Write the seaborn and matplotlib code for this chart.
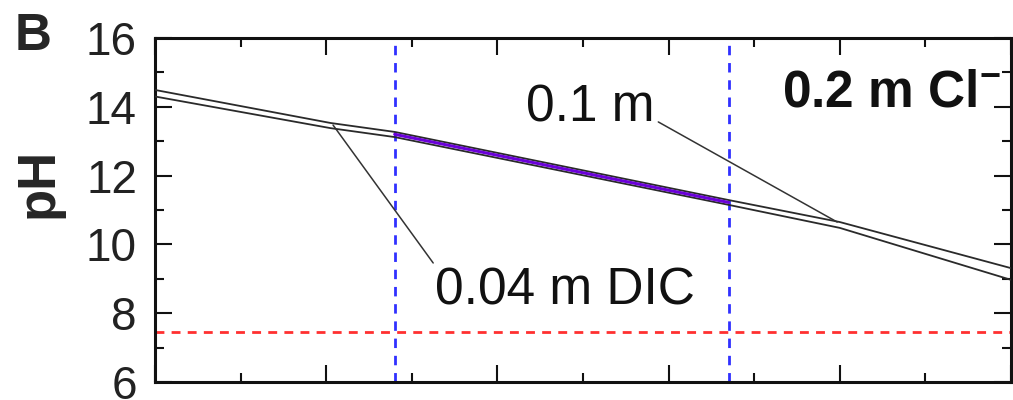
import numpy as np
import pandas as pd
import matplotlib
matplotlib.use("Agg")
import matplotlib.pyplot as plt
import seaborn as sns

# ---- data ----
x_pos = [0.0, 2.05, 2.8, 6.7, 8.0, 10.0]
ph_dic = [14.49, 13.53, 13.27, 11.29, 10.65, 9.31]
ph_cl = [14.30, 13.38, 13.12, 11.15, 10.48, 8.97]
band_x = [2.8, 6.7]
band_ph = [13.20, 11.22]
ref_ph = 7.45
window_x = [2.8, 6.71]
dic_pointer = [(2.08, 13.47), (3.25, 9.46)]
cl_pointer = [(5.88, 13.56), (7.97, 10.65)]
y_ticks = [6, 8, 10, 12, 14, 16]

sns.set_style("ticks")
plt.rcParams["font.family"] = ["Liberation Sans", "DejaVu Sans"]
plt.rcParams["mathtext.fontset"] = "custom"
plt.rcParams["mathtext.rm"] = "Liberation Sans"
plt.rcParams["mathtext.bf"] = "Liberation Sans:bold"

df = pd.DataFrame({
    "x": x_pos * 2,
    "pH": ph_dic + ph_cl,
    "series": ["0.04 m DIC"] * len(x_pos) + ["0.1 m"] * len(x_pos),
})

fig = plt.figure(figsize=(10.13, 4.0), dpi=100)
ax = fig.add_axes([0.153, 0.045, 0.845, 0.86])

sns.lineplot(data=df, x="x", y="pH", hue="series", estimator=None,
             palette={"0.04 m DIC": "#2a2a2a", "0.1 m": "#2a2a2a"},
             linewidth=1.3, legend=False, ax=ax, zorder=3)
sns.lineplot(x=band_x, y=band_ph, color="#6a00d8", linewidth=2.2, ax=ax, zorder=4)

ax.axhline(ref_ph, color="#ff3030", linewidth=2.0, linestyle=(0, (3.2, 2.6)), zorder=2)
for xv in window_x:
    ax.axvline(xv, color="#3030ff", linewidth=2.0, linestyle=(0, (3.4, 2.8)), zorder=2)

for p in (dic_pointer, cl_pointer):
    ax.annotate("", xy=p[0], xytext=p[1],
                arrowprops=dict(arrowstyle="-", color="#333333", lw=1.1,
                                shrinkA=0, shrinkB=0))

ax.text(3.27, 8.24, "0.04 m DIC", fontsize=37, color="#111111", va="baseline", ha="left")
ax.text(4.33, 13.56, "0.1 m", fontsize=37, color="#111111", va="baseline", ha="left")
ax.text(7.32, 14.0, r"0.2 m Cl$^{\mathbf{-}}$", fontsize=37, fontweight="bold", color="#111111",
        va="baseline", ha="left")

ax.set_xlim(0, 10)
ax.set_ylim(6, 16)
ax.set_xticks([0, 2, 4, 6, 8, 10])
ax.set_xticks([1, 3, 5, 7, 9], minor=True)
ax.set_yticks(y_ticks)
ax.set_yticks([7, 9, 11, 13, 15], minor=True)
ax.set_xticklabels([])
ax.set_yticklabels([str(t) for t in y_ticks], fontsize=33, color="#222222")
ax.tick_params(which="both", direction="in", top=True, right=True, width=1.5, color="#111111")
ax.tick_params(which="major", length=12, pad=13)
ax.tick_params(which="minor", length=6.5)
ax.set_xlabel("")
ax.set_ylabel("")
for s in ax.spines.values():
    s.set_linewidth(2.2)
    s.set_color("#111111")

fig.text(39 / 1013, 1 - 183 / 400, "pH", rotation=90, fontsize=38, fontweight="bold",
         ha="center", va="center")
fig.text(15 / 1013, 1 - 50 / 400, "B", fontsize=37, fontweight="bold", ha="left", va="baseline")

fig.savefig("out.png", dpi=100)
